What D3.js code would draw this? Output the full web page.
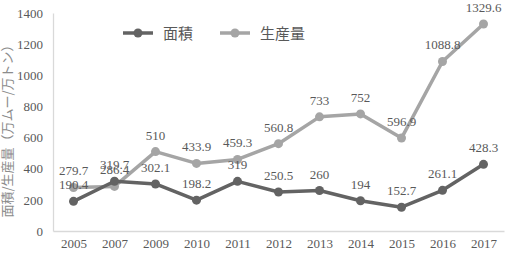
<!DOCTYPE html>
<html>
<head>
<meta charset="utf-8">
<script src="https://cdn.jsdelivr.net/npm/d3@7"></script>
<style>
  body { margin: 0; background: #fff; }
  svg { display: block; }
  .num { font-family: "Liberation Serif", "Times New Roman", "DejaVu Serif", serif; font-size: 13px; fill: #595959; }
  .jp { font-family: "Noto Sans CJK JP", sans-serif; fill: #595959; }
</style>
</head>
<body>
<div id="chart"></div>
<script>
// Jahre (Kategorien)
var years = ["2005", "2007", "2009", "2010", "2011", "2012", "2013", "2014", "2015", "2016", "2017"];
// Fläche
var menseki = [190.4, 319.7, 302.1, 198.2, 319, 250.5, 260, 194, 152.7, 261.1, 428.3];
// Produktionsmenge
var seisanryo = [279.7, 286.4, 510, 433.9, 459.3, 560.8, 733, 752, 596.9, 1088.8, 1329.6];
var yTicks = [0, 200, 400, 600, 800, 1000, 1200, 1400];

var width = 506, height = 253;

var svg = d3.select("#chart").append("svg")
  .attr("width", width)
  .attr("height", height);

var x = d3.scalePoint().domain(years).range([53, 504]).padding(0.5);
var y = d3.scaleLinear().domain([0, 1400]).range([231, 13]);

// Achsen
var xAxis = svg.append("g").attr("transform", "translate(0,231)")
  .call(d3.axisBottom(x).tickSize(0).tickPadding(8));
xAxis.attr("font-family", null).attr("font-size", null);
xAxis.select(".domain").attr("stroke", "#d9d9d9").attr("stroke-width", 1.3);
xAxis.selectAll("text").attr("class", "num").attr("fill", null);

var yAxis = svg.append("g").attr("transform", "translate(53,0)")
  .call(d3.axisLeft(y).tickValues(yTicks).tickSize(0).tickPadding(10).tickFormat(d3.format("d")));
yAxis.attr("font-family", null).attr("font-size", null);
yAxis.select(".domain").attr("stroke", "#d9d9d9").attr("stroke-width", 1.3);
yAxis.selectAll("text").attr("class", "num").attr("fill", null);

// Achsentitel
svg.append("text")
  .attr("class", "jp")
  .attr("transform", "translate(12,128) rotate(-90)")
  .attr("text-anchor", "middle")
  .style("font-size", "13px")
  .style("fill", "#8c8c8c")
  .text("面積/生産量（万ムー/万トン）");

// eine Linie mit Punkten zeichnen
var drawSeries = function(values, color) {
  var line = d3.line()
    .x(function(d, i) { return x(years[i]); })
    .y(function(d) { return y(d); });

  svg.append("path")
    .datum(values)
    .attr("fill", "none")
    .attr("stroke", color)
    .attr("stroke-width", 3.5)
    .attr("stroke-linejoin", "round")
    .attr("d", line);

  svg.append("g").selectAll("circle")
    .data(values)
    .join("circle")
    .attr("cx", function(d, i) { return x(years[i]); })
    .attr("cy", function(d) { return y(d); })
    .attr("r", 4.5)
    .attr("fill", color);
};

// Datenbeschriftungen
var drawLabels = function(values) {
  svg.append("g").selectAll("text")
    .data(values)
    .join("text")
    .attr("class", "num")
    .attr("x", function(d, i) { return x(years[i]); })
    .attr("y", function(d) { return y(d) - 12; })
    .attr("text-anchor", "middle")
    .text(function(d) { return d; });
};

var c1 = "#636363", c2 = "#a5a5a5";
drawSeries(seisanryo, c2);
drawSeries(menseki, c1);
drawLabels(seisanryo);
drawLabels(menseki);

// Legende
var legend = [["面積", c1, 123], ["生産量", c2, 220]];
legend.forEach(function(l) {
  var g = svg.append("g").attr("transform", "translate(" + l[2] + ",33)");
  g.append("line").attr("x1", 0).attr("x2", 30).attr("y1", 0).attr("y2", 0)
    .attr("stroke", l[1]).attr("stroke-width", 3.5);
  g.append("circle").attr("cx", 15).attr("cy", 0).attr("r", 4.5).attr("fill", l[1]);
  g.append("text").attr("class", "jp").attr("x", 40).attr("y", 5.5)
    .style("font-size", "15px")
    .text(l[0]);
});
</script>
</body>
</html>
